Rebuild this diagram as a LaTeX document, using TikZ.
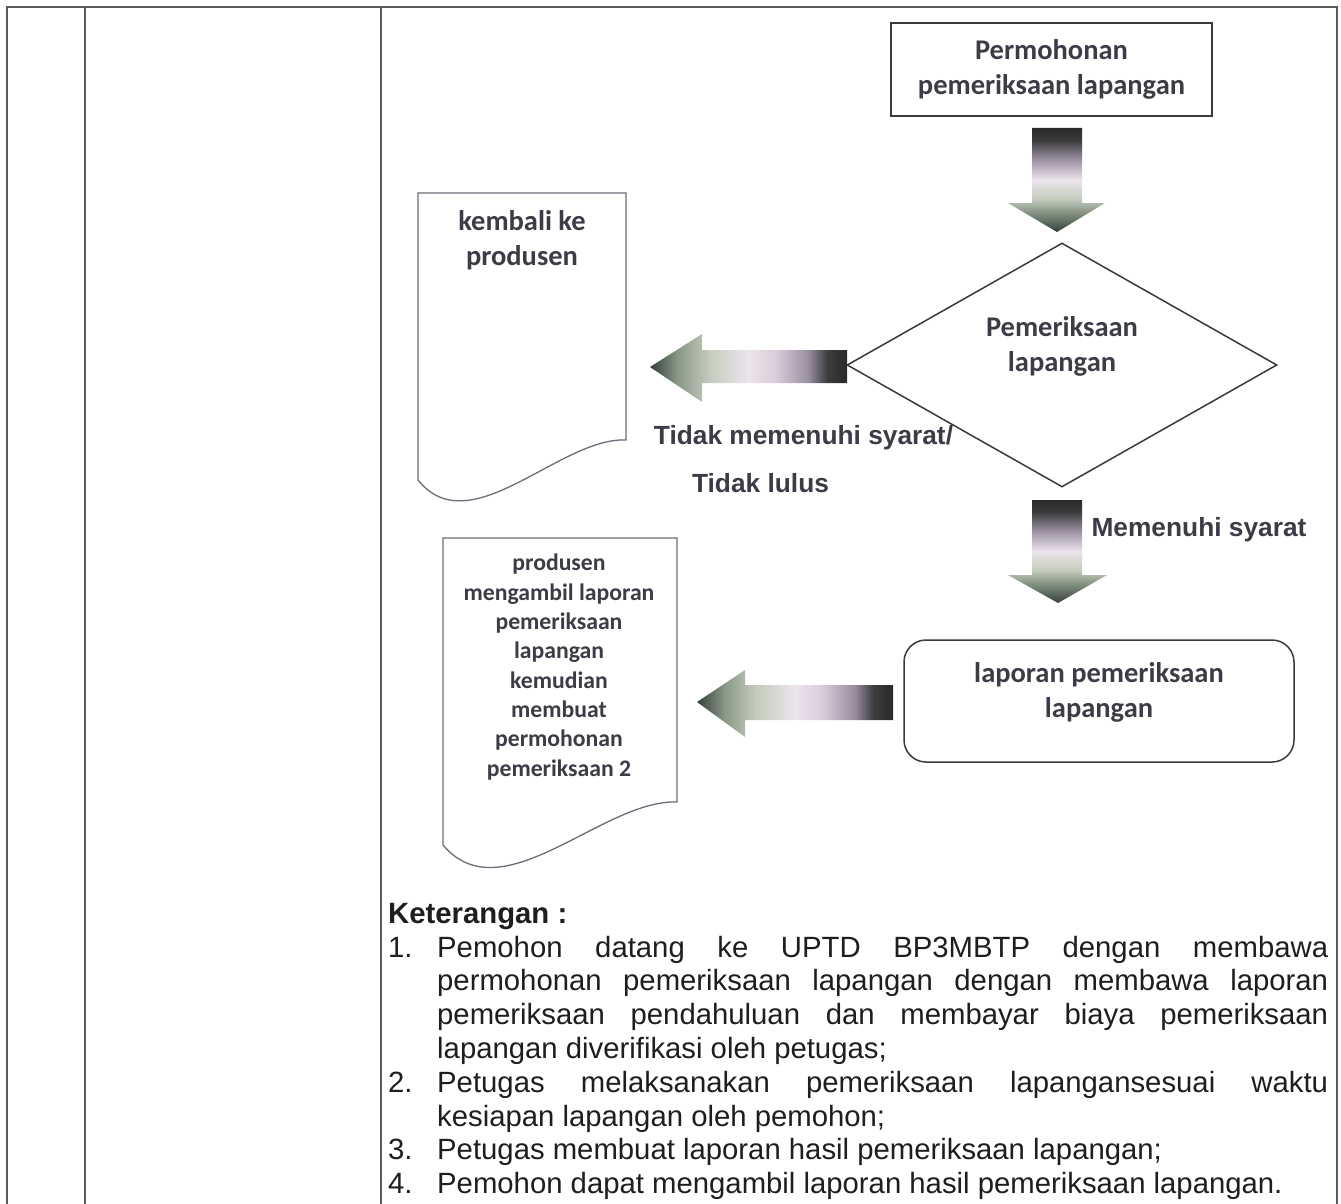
\documentclass[tikz,border=0pt]{standalone}
\usepackage{fontspec}
\setmainfont{Liberation Sans}
\newfontfamily\calfont{Carlito}
\usetikzlibrary{shapes.geometric}

\definecolor{ink}{HTML}{3D3B47}
\definecolor{rulec}{HTML}{5A5A5A}
\definecolor{edgec}{HTML}{3A3A3A}
\definecolor{docc}{HTML}{6C6C7A}
\definecolor{bodyc}{HTML}{1E1E1E}

% colours of the shaded block arrows
\definecolor{gdark}{HTML}{2A2A2A}
\definecolor{gdark2}{HTML}{3C3C3E}
\definecolor{gpurp}{HTML}{9A90A2}
\definecolor{glav}{HTML}{ECE4EC}
\definecolor{glavb}{HTML}{D8CCD8}
\definecolor{ggreenl}{HTML}{C4CCBC}
\definecolor{ggreen}{HTML}{8A9888}
\definecolor{gtip}{HTML}{34403A}

\pgfdeclareverticalshading{downgrad}{100bp}{%
  color(0bp)=(gtip); color(25bp)=(gtip); color(35bp)=(ggreen);
  color(41bp)=(ggreenl); color(50bp)=(glav); color(60bp)=(gpurp);
  color(69bp)=(gdark2); color(75bp)=(gdark); color(100bp)=(gdark)}
\pgfdeclarehorizontalshading{leftgrad}{100bp}{%
  color(0bp)=(gtip); color(25bp)=(gtip); color(32bp)=(ggreen);
  color(40bp)=(ggreenl); color(50bp)=(glav); color(57bp)=(glavb);
  color(65bp)=(gpurp); color(70bp)=(gdark2); color(75bp)=(gdark); color(100bp)=(gdark)}

\tikzset{
  tablerule/.style={draw=rulec, line width=2pt},
  flowtext/.style={font=\calfont\bfseries\fontsize{28.5}{35}\selectfont, text=ink, align=center, inner sep=0pt},
  smalltext/.style={font=\calfont\bfseries\fontsize{23.7}{29.3}\selectfont, text=ink, align=center, inner sep=0pt},
  labeltext/.style={font=\bfseries\fontsize{26.3}{32}\selectfont, text=ink, inner sep=0pt},
  procbox/.style={draw=edgec, line width=1.8pt, minimum width=321pt, minimum height=93pt, inner sep=0pt},
  decision/.style={diamond, draw=edgec, line width=1.5pt, minimum width=430pt, minimum height=244pt, inner sep=0pt},
  resultbox/.style={draw=edgec, line width=1.5pt, rounded corners=22pt, minimum width=390pt, minimum height=122pt, inner sep=0pt},
  docshape/.style={draw=docc, line width=1.3pt},
  downarrow/.style={shading=downgrad},
  leftarrow/.style={shading=leftgrad},
}

\begin{document}
\begin{tikzpicture}[x=1pt,y=-1pt]
\useasboundingbox (0,0) rectangle (1341,1204);
\fill[white] (0,0) rectangle (1341,1204);

% table frame and column rules
\draw[tablerule] (7,1204) -- (7,7) -- (1337,7) -- (1337,1204);
\draw[tablerule] (85,7) -- (85,1204);
\draw[tablerule] (381,7) -- (381,1204);

% request box
\node[procbox] (req) at (1051.5,69.5) {};
\node[flowtext] (reqtext) at (req.center) {Permohonan\\pemeriksaan lapangan};

% arrow to the decision
\shade[downarrow] (1032,128) -- (1082,128) -- (1082,203) -- (1105,203) -- (1057,232) -- (1008,203) -- (1032,203) -- cycle;

% decision
\node[decision] (chk) at (1062,365) {};
\node[flowtext] (chktext) at (1062,346) {Pemeriksaan\\lapangan};

% rejected branch
\shade[leftarrow] (847,350) -- (847,383) -- (702,383) -- (702,402) -- (650,367) -- (702,334) -- (702,350) -- cycle;
\node[labeltext] (fail1) at (803.5,438) {Tidak memenuhi syarat/};
\node[labeltext] (fail2) at (760.5,483) {Tidak lulus};

\draw[docshape] (418,480) -- (418,193) -- (626,193) -- (626,440)
  .. controls (560,437) and (470,545) .. (418,480) -- cycle;
\node[flowtext] (back) at (522,240) {kembali ke\\produsen};

% accepted branch
\shade[downarrow] (1032,500) -- (1082,500) -- (1082,575) -- (1107,575) -- (1058,603) -- (1008,575) -- (1032,575) -- cycle;
\node[labeltext] (pass) at (1199,530) {Memenuhi syarat};

\node[resultbox] (rep) at (1099,701) {};
\node[flowtext] (reptext) at (1099,692) {laporan pemeriksaan\\lapangan};

\shade[leftarrow] (893,685) -- (893,720) -- (745,720) -- (745,737) -- (697,702) -- (745,670) -- (745,685) -- cycle;

\draw[docshape] (443,845) -- (443,538) -- (677,538) -- (677,802)
  .. controls (603,799) and (502,915) .. (443,845) -- cycle;
\node[smalltext] (next) at (559,667) {produsen\\mengambil laporan\\pemeriksaan\\lapangan\\kemudian\\membuat\\permohonan\\pemeriksaan 2};

% notes
\node[anchor=north west, inner sep=0pt, text width=940pt, align=justify, text=bodyc,
      font=\fontsize{29.3}{33.8}\selectfont] (notes) at (388,903) {%
  \tolerance=10000\hbadness=10000\parindent=0pt
  {\bfseries Keterangan :}\par
  \hangindent=49pt\hangafter=1 \makebox[49pt][l]{1.}Pemohon datang ke UPTD BP3MBTP dengan membawa\linebreak
  permohonan pemeriksaan lapangan dengan membawa laporan\linebreak
  pemeriksaan pendahuluan dan membayar biaya pemeriksaan\linebreak
  lapangan diverifikasi oleh petugas;\par
  \hangindent=49pt\hangafter=1 \makebox[49pt][l]{2.}Petugas melaksanakan pemeriksaan lapangansesuai waktu\linebreak
  kesiapan lapangan oleh pemohon;\par
  \hangindent=49pt\hangafter=1 \makebox[49pt][l]{3.}Petugas membuat laporan hasil pemeriksaan lapangan;\par
  \hangindent=49pt\hangafter=1 \makebox[49pt][l]{4.}Pemohon dapat mengambil laporan hasil pemeriksaan lapangan.\par};
\end{tikzpicture}
\end{document}
